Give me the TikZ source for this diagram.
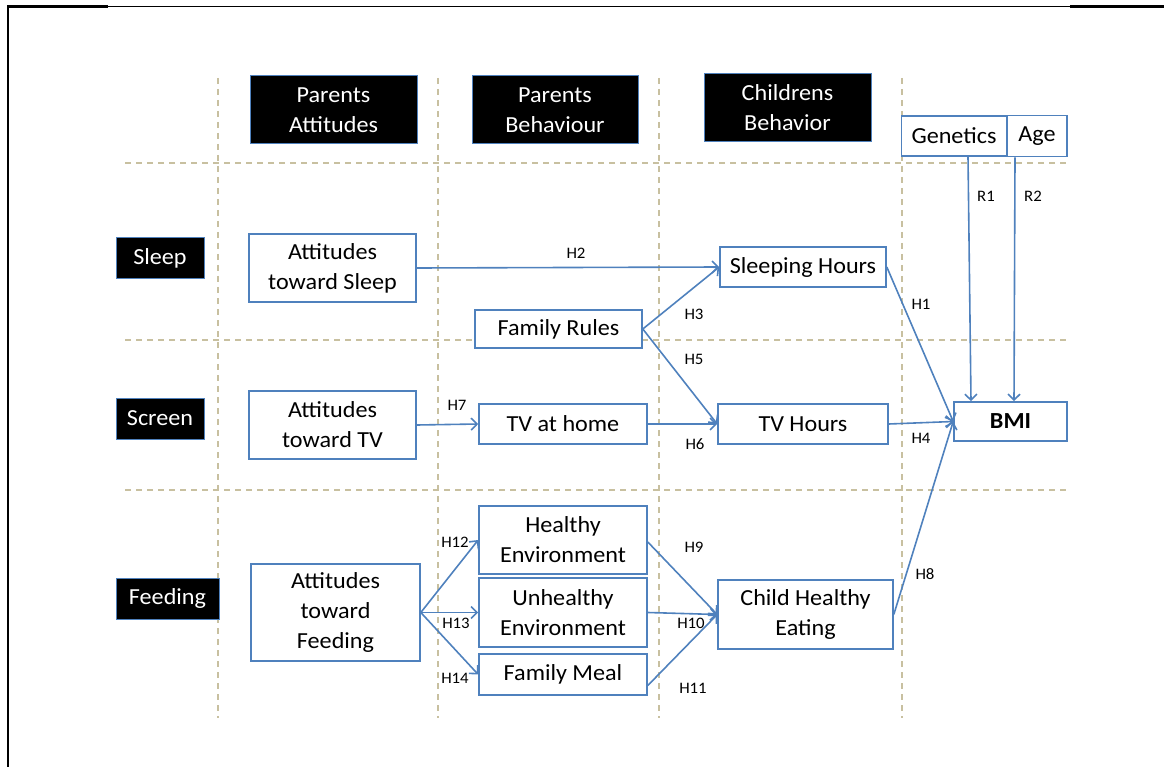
\documentclass[tikz,border=0pt]{standalone}
\usepackage{fontspec}
\setmainfont{Carlito}[FakeStretch=1.05]
\usetikzlibrary{arrows.meta,calc}
\definecolor{boxblue}{RGB}{79,129,189}
\definecolor{gridtan}{RGB}{200,192,160}
\newcommand{\boxfont}{\fontsize{23}{30}\selectfont}
\newcommand{\labfont}{\fontsize{16}{18}\selectfont}
\tikzset{
  box/.style={draw=boxblue, line width=1.6pt, fill=white, inner sep=0pt, align=center, font=\boxfont, text=black},
  hdr/.style={draw=boxblue, line width=1pt, fill=black, inner sep=0pt, align=center, font=\boxfont, text=white},
  conn/.style={draw=boxblue, line width=1.6pt, -{Straight Barb[length=6pt,width=12pt,line width=1.6pt]}},
  lab/.style={font=\labfont, inner sep=0pt, text=black},
  gridline/.style={draw=gridtan, line width=1.6pt, dash pattern=on 6pt off 5pt},
  frameline/.style={draw=black, line width=1pt}
}
\begin{document}
\begin{tikzpicture}[x=1pt,y=-1pt]
\useasboundingbox (0,0) rectangle (1164,767);
% frame
\draw[frameline, line width=2.2pt] (8,767) -- (8,6.5) -- (108,6.5);
\draw[frameline] (108,6.5) -- (1070,6.5);
\draw[frameline, line width=2.2pt] (1070,6.5) -- (1164,6.5);
% grid
\foreach \x in {218,438,659,902} \draw[gridline] (\x,78) -- (\x,718);
\foreach \y in {163,340,490} \draw[gridline] (125,\y) -- (1070,\y);
% headers
\node[hdr, minimum width=167pt, minimum height=68pt] (hpa) at (333.5,110) {Parents\\Attitudes};
\node[hdr, minimum width=166pt, minimum height=68pt] (hpb) at (555,110) {Parents\\Behaviour};
\node[hdr, minimum width=167pt, minimum height=68pt] (hcb) at (787.5,108) {Childrens\\Behavior};
% row labels
\node[hdr, minimum width=88pt, minimum height=41pt] (rsleep) at (160,258.5) {Sleep};
\node[hdr, minimum width=88pt, minimum height=41pt] (rscreen) at (160,418.5) {Screen};
\node[hdr, minimum width=103pt, minimum height=41pt] (rfeed) at (167.5,598.5) {Feeding};
% boxes
\node[box, minimum width=105pt, minimum height=40pt] (gen) at (954,136) {Genetics};
\node[box, minimum width=60pt, minimum height=41pt] (age) at (1037,136) {Age};
\node[box, minimum width=113pt, minimum height=39pt, font=\boxfont\bfseries] (bmi) at (1010.5,421.5) {BMI};
\node[box, minimum width=167pt, minimum height=68pt] (ats) at (332.5,268) {Attitudes\\toward Sleep};
\node[box, minimum width=167pt, minimum height=68pt] (att) at (332.5,425) {Attitudes\\toward TV};
\node[box, minimum width=169pt, minimum height=97pt] (atf) at (335.5,612.5) {Attitudes\\toward\\Feeding};
\node[box, minimum width=167pt, minimum height=38pt] (fr) at (558.5,329) {Family Rules};
\node[box, minimum width=168pt, minimum height=40pt] (tvh) at (563,424) {TV at home};
\node[box, minimum width=166pt, minimum height=40pt] (sh) at (803,267) {Sleeping Hours};
\node[box, minimum width=170pt, minimum height=40pt] (tvhrs) at (803,424) {TV Hours};
\node[box, minimum width=168pt, minimum height=68pt] (he) at (563,540) {Healthy\\Environment};
\node[box, minimum width=168pt, minimum height=69pt] (ue) at (563,612.5) {Unhealthy\\Environment};
\node[box, minimum width=168pt, minimum height=41pt] (fm) at (563,674.5) {Family Meal};
\node[box, minimum width=175pt, minimum height=69pt] (che) at (805.5,614.5) {Child Healthy\\Eating};
% connectors
\draw[conn] (ats.east) -- (sh.west);
\draw[conn] (fr.east) -- (sh.west);
\draw[conn] (fr.east) -- (tvhrs.west);
\draw[conn] (att.east) -- (tvh.west);
\draw[conn] (tvh.east) -- (tvhrs.west);
\draw[conn] (sh.east) -- (bmi.west);
\draw[conn] (tvhrs.east) -- (bmi.west);
\draw[conn] (che.east) -- (bmi.west);
\draw[conn] ([xshift=14pt]gen.south) -- ([xshift=-39.5pt]bmi.north);
\draw[conn] ([xshift=-22pt]age.south) -- ([xshift=3.5pt]bmi.north);
\draw[conn] (atf.east) -- (he.west);
\draw[conn] (atf.east) -- (ue.west);
\draw[conn] (atf.east) -- (fm.west);
\draw[conn] ([yshift=-2pt]he.east) -- (che.west);
\draw[conn] (ue.east) -- (che.west);
\draw[conn] ([yshift=-11pt]fm.east) -- (che.west);
% labels
\node[lab] (lh2) at (576,253) {H2};
\node[lab] (lh3) at (694,314) {H3};
\node[lab] (lh5) at (694,359) {H5};
\node[lab] (lh7) at (457,405) {H7};
\node[lab] (lh6) at (695,444) {H6};
\node[lab] (lh1) at (921,304) {H1};
\node[lab] (lh4) at (921,438) {H4};
\node[lab] (lh8) at (925,574) {H8};
\node[lab] (lr1) at (986,196) {R1};
\node[lab] (lr2) at (1033,196) {R2};
\node[lab] (lh12) at (455,542) {H12};
\node[lab] (lh13) at (456,623) {H13};
\node[lab] (lh14) at (455,678) {H14};
\node[lab] (lh9) at (694,547) {H9};
\node[lab] (lh10) at (691,623) {H10};
\node[lab] (lh11) at (693,688) {H11};
\end{tikzpicture}
\end{document}
